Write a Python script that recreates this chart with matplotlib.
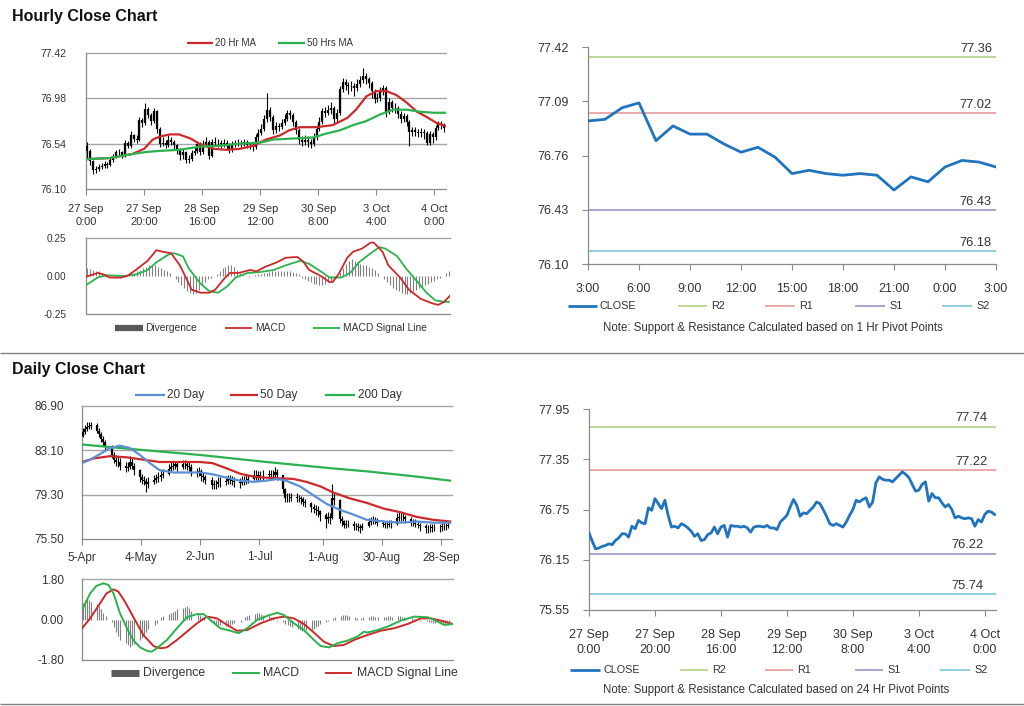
import numpy as np
import pandas as pd
import matplotlib
matplotlib.use('Agg')
import matplotlib.pyplot as plt
from matplotlib.lines import Line2D

plt.rcParams['font.family'] = ['Liberation Sans', 'DejaVu Sans']

# ---------------- DATA ----------------
# Hourly closes (27 Sep 0:00 ... 4 Oct 3:00), one per hour
hourly_close = [
    76.47, 76.37, 76.28, 76.29, 76.31, 76.32, 76.34, 76.33, 76.38, 76.41,
    76.46, 76.46, 76.42, 76.55, 76.52, 76.62, 76.59, 76.58, 76.77, 76.74,
    76.88, 76.82, 76.76, 76.86, 76.68, 76.54, 76.55, 76.53, 76.58, 76.56,
    76.53, 76.49, 76.43, 76.46, 76.38, 76.39, 76.45, 76.47, 76.54, 76.46,
    76.54, 76.56, 76.42, 76.56, 76.55, 76.55, 76.54, 76.55, 76.53, 76.48,
    76.54, 76.55, 76.55, 76.54, 76.56, 76.53, 76.53, 76.51, 76.60, 76.64,
    76.68, 76.78, 76.87, 76.80, 76.67, 76.71, 76.70, 76.74, 76.78, 76.84,
    76.82, 76.75, 76.67, 76.58, 76.56, 76.58, 76.56, 76.54, 76.60, 76.68,
    76.75, 76.86, 76.84, 76.87, 76.89, 76.78, 76.84, 77.07, 77.14, 77.11,
    77.10, 77.10, 77.08, 77.12, 77.16, 77.20, 77.17, 77.13, 77.05, 76.97,
    76.98, 77.05, 77.08, 76.85, 76.94, 76.89, 76.89, 76.83, 76.78, 76.81,
    76.75, 76.65, 76.67, 76.65, 76.64, 76.65, 76.64, 76.55, 76.63, 76.60,
    76.69, 76.73, 76.72, 76.69]
hourly_first_open = 76.52
hourly_high = [
    76.56, 76.49, 76.38, 76.32, 76.34, 76.35, 76.37, 76.36, 76.41, 76.44,
    76.48, 76.49, 76.47, 76.58, 76.57, 76.66, 76.63, 76.62, 76.80, 76.79,
    76.93, 76.90, 76.84, 76.89, 76.87, 76.70, 76.60, 76.58, 76.62, 76.60,
    76.58, 76.54, 76.50, 76.49, 76.47, 76.43, 76.48, 76.51, 76.57, 76.56,
    76.58, 76.60, 76.58, 76.59, 76.60, 76.59, 76.58, 76.59, 76.58, 76.55,
    76.57, 76.58, 76.59, 76.58, 76.59, 76.58, 76.56, 76.55, 76.63, 76.68,
    76.73, 76.82, 77.03, 76.90, 76.82, 76.75, 76.74, 76.78, 76.83, 76.87,
    76.87, 76.84, 76.77, 76.69, 76.61, 76.62, 76.61, 76.59, 76.64, 76.72,
    76.80, 76.89, 76.90, 76.92, 76.94, 76.91, 76.88, 77.10, 77.18, 77.17,
    77.14, 77.15, 77.13, 77.17, 77.20, 77.27, 77.23, 77.19, 77.15, 77.07,
    77.03, 77.09, 77.11, 77.10, 76.98, 76.96, 76.93, 76.91, 76.86, 76.84,
    76.83, 76.77, 76.70, 76.70, 76.68, 76.69, 76.68, 76.66, 76.66, 76.65,
    76.72, 76.76, 76.76, 76.74]
hourly_low = [
    76.40, 76.33, 76.25, 76.26, 76.27, 76.29, 76.30, 76.30, 76.32, 76.36,
    76.40, 76.43, 76.40, 76.41, 76.50, 76.50, 76.56, 76.55, 76.57, 76.70,
    76.72, 76.79, 76.72, 76.74, 76.64, 76.51, 76.52, 76.50, 76.51, 76.53,
    76.49, 76.44, 76.38, 76.39, 76.35, 76.35, 76.37, 76.43, 76.45, 76.43,
    76.44, 76.51, 76.39, 76.41, 76.52, 76.51, 76.50, 76.51, 76.49, 76.45,
    76.46, 76.51, 76.52, 76.51, 76.52, 76.50, 76.49, 76.47, 76.49, 76.57,
    76.62, 76.66, 76.75, 76.76, 76.63, 76.64, 76.66, 76.68, 76.72, 76.76,
    76.78, 76.71, 76.63, 76.54, 76.52, 76.53, 76.51, 76.50, 76.52, 76.58,
    76.66, 76.73, 76.80, 76.82, 76.83, 76.74, 76.75, 76.82, 77.04, 77.06,
    77.02, 77.05, 77.00, 77.05, 77.09, 77.13, 77.12, 77.08, 76.98, 76.93,
    76.94, 76.95, 77.01, 76.80, 76.83, 76.85, 76.84, 76.79, 76.74, 76.75,
    76.71, 76.52, 76.61, 76.61, 76.60, 76.60, 76.59, 76.53, 76.53, 76.55,
    76.58, 76.67, 76.68, 76.65]
hourly_ticklabels = ['27 Sep\n0:00', '27 Sep\n20:00', '28 Sep\n16:00',
                     '29 Sep\n12:00', '30 Sep\n8:00', '3 Oct\n4:00', '4 Oct\n0:00']

# Hourly moving averages (hour index, value)
ma20h_x = [0, 8, 16, 20, 23, 25.5, 29, 32, 36, 39, 44, 48.5, 53, 57.6, 62, 66.8,
           70, 73.6, 79.4, 85, 90, 93, 96.6, 100, 103.5, 107, 110.4, 114, 117.3, 120.8, 124]
ma20h_v = [76.39, 76.40, 76.44, 76.49, 76.58, 76.61, 76.63, 76.63, 76.59, 76.54,
           76.49, 76.48, 76.49, 76.52, 76.58, 76.62, 76.67, 76.70, 76.70, 76.72,
           76.79, 76.87, 77.00, 77.05, 77.05, 77.01, 76.94, 76.85, 76.80, 76.74, 76.71]
ma50h_x = [0, 8, 16, 21, 25.5, 32, 39, 46, 53, 60, 64.5, 71.4, 78.3, 83, 87.5, 92,
           96.6, 101, 105.9, 110.4, 115, 119.6, 124]
ma50h_v = [76.39, 76.40, 76.44, 76.46, 76.47, 76.48, 76.51, 76.52, 76.54, 76.55,
           76.58, 76.59, 76.60, 76.64, 76.67, 76.72, 76.76, 76.82, 76.87, 76.87,
           76.85, 76.84, 76.84]

# Hourly MACD
macd_h_x = [0, 4, 6, 8, 12, 14, 17, 21, 24, 26, 29, 32, 34, 36, 39, 42, 44, 47, 49, 52,
            56, 58, 61, 65, 68, 72, 74, 76, 80, 83, 84, 86, 89, 91, 94, 97, 98, 101, 103, 107,
            110, 114, 118, 120, 122, 124]
macd_h_v = [-0.005, 0.02, 0.01, -0.01, -0.01, 0.0, 0.04, 0.10, 0.17, 0.16,
            0.15, 0.07, -0.01, -0.09, -0.11, -0.11, -0.09, -0.02, 0.02, 0.02,
            0.04, 0.03, 0.06, 0.09, 0.12, 0.125, 0.095, 0.04, 0.0, -0.04,
            -0.04, 0.01, 0.12, 0.16, 0.18, 0.22, 0.22, 0.16, 0.07, -0.01,
            -0.09, -0.15, -0.18, -0.19, -0.17, -0.13]
sig_h_x = [0, 4, 7, 13, 17, 21, 24, 28, 30, 33, 35, 39, 42, 45, 48, 51, 55, 59, 64, 68,
           73, 76, 80, 83, 87, 90, 93, 97, 100, 102, 106, 109, 113, 116, 119, 122, 124]
sig_h_v = [-0.06, -0.01, 0.005, 0.0, 0.01, 0.04, 0.09, 0.14, 0.15, 0.13,
           0.05, -0.05, -0.10, -0.11, -0.07, -0.01, 0.02, 0.025, 0.04, 0.07,
           0.10, 0.08, 0.03, -0.01, -0.01, 0.02, 0.09, 0.15, 0.19, 0.18,
           0.13, 0.05, -0.04, -0.11, -0.16, -0.17, -0.17]
div_h = [0.05, 0.045, 0.04, 0.035, 0.03, 0.02,
         0.01, 0.005, -0.005, -0.01, -0.01, -0.01, -0.005, 0.0,
         0.005, 0.01, 0.02, 0.03, 0.04, 0.05, 0.06, 0.07,
         0.07, 0.07, 0.06, 0.05, 0.04, 0.03, 0.02,
         0.0, -0.02, -0.04, -0.06, -0.08, -0.10, -0.11, -0.12, -0.11,
         -0.09, -0.06, -0.04, -0.02, -0.01, 0.0, 0.01,
         0.03, 0.05, 0.06, 0.07, 0.07, 0.06, 0.04, 0.02,
         0.01, 0.0, -0.005, 0.0, 0.005, 0.01,
         0.015, 0.02, 0.02, 0.025, 0.03, 0.03, 0.03, 0.035, 0.035, 0.03, 0.03, 0.025, 0.02, 0.01,
         -0.01, -0.02, -0.03, -0.04, -0.05, -0.05, -0.06, -0.06, -0.05, -0.04, -0.03, -0.02,
         0.0, 0.02, 0.05, 0.08, 0.10, 0.11, 0.10, 0.09, 0.08, 0.07, 0.07, 0.06, 0.05, 0.04, 0.02, 0.0,
         -0.02, -0.04, -0.06, -0.08, -0.09, -0.10, -0.11, -0.12, -0.12, -0.11, -0.10, -0.09,
         -0.08, -0.07, -0.06, -0.05, -0.04, -0.03, -0.02, -0.01, 0.0, 0.02, 0.03]

# Hourly pivot levels (1 Hr)
piv_h_levels = {'R2': 77.36, 'R1': 77.02, 'S1': 76.43, 'S2': 76.18}
piv_h_ticklabels = ['3:00', '6:00', '9:00', '12:00', '15:00', '18:00', '21:00', '0:00', '3:00']
# Daily pivot levels (24 Hr)
piv_d_levels = {'R2': 77.74, 'R1': 77.22, 'S1': 76.22, 'S2': 75.74}

# Daily closes (business days from 5-Apr)
daily_start = '2021-04-05'
daily_close = [
    84.7, 84.9, 85.1, 85.2, 85.25, 84.8, 84.5, 84.1, 83.8, 83.5,
    82.7, 82.3, 82.1, 82.1, 81.8, 81.6, 81.7, 82.1, 81.8, 81.4,
    80.8, 80.6, 80.5, 80.2, 80.4, 80.6, 80.7, 80.8, 81.0, 81.1,
    81.5, 81.7, 81.8, 81.9, 81.7, 81.9, 81.9, 81.8, 81.7, 81.2,
    81.2, 81.3, 80.9, 80.8, 80.6, 80.1, 80.2, 80.2, 80.4, 80.4,
    80.5, 80.65, 80.6, 80.5, 80.4, 80.3, 80.5, 80.5, 80.6, 80.65,
    81.0, 81.0, 80.9, 80.95, 81.0, 81.05, 81.0, 81.0, 81.2, 81.0,
    79.8, 79.0, 79.0, 79.05, 79.1, 79.0, 79.0, 78.9, 78.7, 78.6,
    78.2, 78.1, 78.0, 77.9, 77.6, 77.2, 77.4, 77.3, 79.0, 78.85,
    77.2, 77.0, 76.7, 76.8, 76.8, 76.6, 76.6, 76.5, 76.45, 76.6,
    76.95, 77.0, 77.1, 77.1, 76.9, 76.8, 76.7, 76.7, 76.8, 76.75,
    77.3, 77.4, 77.4, 77.35, 77.2, 76.9, 76.9, 76.8, 76.7, 76.6,
    76.4, 76.4, 76.45, 76.5, 76.5, 76.5, 76.6, 76.6, 76.65, 76.7]
daily_first_open = 84.3
daily_high = [
    85.0, 85.3, 85.5, 85.5, 85.5, 85.4, 85.0, 84.7, 84.3, 84.0,
    83.6, 83.0, 82.7, 82.6, 82.4, 82.1, 82.1, 82.6, 82.4, 82.0,
    81.5, 81.1, 80.9, 80.7, 80.8, 81.0, 81.1, 81.2, 81.4, 81.5,
    81.9, 82.1, 82.2, 82.2, 82.2, 82.3, 82.3, 82.2, 82.1, 81.9,
    81.6, 81.7, 81.5, 81.2, 81.0, 80.8, 80.6, 80.6, 80.8, 80.8,
    80.9, 81.0, 81.0, 80.9, 80.8, 80.7, 80.9, 80.9, 81.0, 81.0,
    81.4, 81.4, 81.3, 81.3, 81.4, 81.4, 81.4, 81.4, 81.7, 81.5,
    81.0, 79.9, 79.4, 79.4, 79.4, 79.4, 79.3, 79.2, 79.1, 78.9,
    78.7, 78.5, 78.4, 78.3, 78.0, 77.7, 77.8, 77.7, 80.2, 79.4,
    78.9, 77.5, 77.1, 77.1, 77.1, 77.0, 76.9, 76.9, 76.8, 76.9,
    77.3, 77.4, 77.5, 77.4, 77.3, 77.1, 77.0, 77.0, 77.1, 77.1,
    77.7, 77.8, 77.7, 77.7, 77.6, 77.4, 77.2, 77.2, 77.0, 76.9,
    76.8, 76.7, 76.8, 76.8, 76.8, 76.8, 76.9, 76.9, 76.9, 77.0]
daily_low = [
    84.2, 84.5, 84.8, 84.9, 84.9, 84.6, 84.2, 83.8, 83.5, 83.1,
    82.4, 82.0, 81.8, 81.7, 81.4, 81.2, 81.3, 81.5, 81.5, 81.0,
    80.4, 80.2, 80.1, 79.5, 79.9, 80.2, 80.3, 80.4, 80.5, 80.7,
    81.0, 81.3, 81.4, 81.5, 81.3, 81.5, 81.5, 81.4, 81.3, 80.9,
    80.8, 80.9, 80.5, 80.4, 80.2, 79.8, 79.8, 79.8, 80.0, 80.0,
    80.1, 80.2, 80.2, 80.1, 80.0, 79.9, 80.1, 80.1, 80.2, 80.3,
    80.6, 80.6, 80.5, 80.6, 80.6, 80.7, 80.6, 80.6, 80.8, 80.6,
    79.4, 78.7, 78.7, 78.7, 78.8, 78.7, 78.7, 78.5, 78.3, 78.2,
    77.8, 77.7, 77.6, 77.4, 77.0, 76.4, 76.9, 76.8, 77.2, 78.4,
    76.9, 76.6, 76.4, 76.4, 76.5, 76.3, 76.3, 76.2, 76.0, 76.3,
    76.5, 76.7, 76.8, 76.8, 76.6, 76.5, 76.4, 76.4, 76.5, 76.4,
    76.7, 77.0, 77.0, 77.0, 76.9, 76.6, 76.6, 76.5, 76.4, 76.2,
    76.0, 76.0, 76.1, 76.1, 76.2, 76.1, 76.2, 76.3, 76.3, 76.4]
daily_tick_dates = ['2021-04-05', '2021-05-04', '2021-06-02', '2021-07-01',
                    '2021-08-01', '2021-08-30', '2021-09-28']

# Daily moving averages (calendar-day offset from 5-Apr, value)
ma20d_x = [0, 4, 9, 13.7, 18.6, 23.5, 28.4, 33.3, 38, 44.8, 51, 58, 64, 71, 77.5, 84,
           90.5, 95.4, 100, 107, 113, 120, 126.5, 133, 139.5, 148, 156, 164, 172, 180.5]
ma20d_v = [82.0, 82.3, 82.8, 83.3, 83.5, 83.3, 82.7, 82.0, 81.4, 81.2,
           81.2, 81.2, 81.05, 80.75, 80.5, 80.4, 80.5, 80.65, 80.5, 80.0,
           79.3, 78.5, 78.0, 77.6, 77.15, 77.0, 76.9, 77.0, 76.9, 76.9]
ma50d_x = [0, 5.6, 13.7, 22, 30, 38, 46, 58, 64, 71, 77.5, 84, 90.5, 97, 103.6, 110,
           117, 123, 131, 139.5, 148, 156, 164, 172, 180.5]
ma50d_v = [82.1, 82.4, 82.6, 82.5, 82.3, 82.1, 82.1, 82.1, 82.0, 81.55,
           81.1, 80.85, 80.75, 80.7, 80.65, 80.4, 80.0, 79.5, 79.0, 78.6,
           78.1, 77.8, 77.4, 77.15, 77.0]
ma200d_x = [0, 25, 58, 90.5, 123, 139.5, 156, 164, 180.5]
ma200d_v = [83.6, 83.2, 82.7, 82.1, 81.55, 81.3, 81.0, 80.85, 80.5]

# Daily MACD
macd_d_x = [0, 4, 7, 10.5, 13, 15.4, 18.6, 22, 25, 28.4, 31.7, 34, 36.6, 41.5, 46.4,
            51.3, 56.2, 59.5, 62.7, 67.6, 72.5, 76.6, 80.7, 85.6, 90.5, 95.4, 98.7, 103.6,
            108.5, 113.4, 116.7, 120.8, 124.8, 129.7, 134.6, 137.9, 139.5, 144.4, 149.3,
            155.9, 162.4, 169, 172.2, 177.1, 181.4]
macd_d_v = [0.42, 1.16, 1.49, 1.61, 1.53, 1.16, 0.27, -0.39, -0.91, -1.24,
            -1.39, -1.43, -1.28, -0.91, -0.39, 0.10, 0.24, 0.24, -0.02, -0.39,
            -0.50, -0.61, -0.39, -0.02, 0.16, 0.30, 0.20, -0.17, -0.47, -0.91,
            -1.18, -1.24, -1.06, -0.94, -0.76, -0.54, -0.58, -0.47, -0.32, -0.05,
            0.13, 0.10, -0.02, -0.24, -0.20]
sig_d_x = [0, 4, 8.8, 12, 15.4, 17.8, 21, 25, 30, 35, 38.2, 41.5, 46.4, 51.3, 56.2,
           61.1, 66, 70.9, 75.8, 80.7, 87.3, 93.8, 98.7, 103.6, 108.5, 113.4, 118.3,
           123.2, 128.1, 133, 139.5, 146, 152.6, 159.2, 165.7, 170.6, 175.5, 181.4]
sig_d_v = [-0.39, 0.05, 0.72, 1.16, 1.34, 1.24, 0.79, 0.13, -0.69, -1.18,
           -1.28, -1.24, -0.91, -0.54, -0.17, 0.13, 0.05, -0.24, -0.50, -0.47,
           -0.17, 0.05, 0.13, 0.05, -0.20, -0.58, -0.99, -1.18, -1.13, -0.91,
           -0.69, -0.50, -0.39, -0.20, 0.05, 0.05, -0.05, -0.20]
div_d = [0.75, 0.85, 0.9, 0.85, 0.8, 0.7, 0.6, 0.45, 0.3, 0.15,
         -0.1, -0.35, -0.55, -0.75, -0.9, -1.05, -1.15, -1.2, -1.15, -1.1,
         -0.9, -0.8, -0.7, -0.55, -0.4, -0.25, -0.15, 0.0, 0.1, 0.15,
         0.25, 0.3, 0.35, 0.4, 0.45, 0.5, 0.55, 0.6, 0.5, 0.4,
         0.3, 0.2, 0.1, 0.05, 0.0, -0.1, -0.15, -0.2, -0.25, -0.25,
         -0.3, -0.3, -0.25, -0.2, -0.15, -0.1, 0.0, 0.1, 0.15, 0.2,
         0.25, 0.3, 0.3, 0.25, 0.2, 0.15, 0.1, 0.05, 0.0, -0.05,
         -0.1, -0.2, -0.25, -0.3, -0.35, -0.4, -0.45, -0.5, -0.5, -0.45,
         -0.45, -0.4, -0.35, -0.3, -0.2, -0.1, -0.05, 0.0, 0.05, 0.1,
         0.15, 0.2, 0.2, 0.2, 0.15, 0.1, 0.05, 0.0, 0.05, 0.1,
         0.12, 0.15, 0.15, 0.12, 0.1, 0.1, 0.12, 0.15, 0.15, 0.12,
         0.15, 0.15, 0.12, 0.1, 0.08, 0.05, 0.03, 0.0, -0.03, -0.05,
         -0.08, -0.1, -0.12, -0.15, -0.15, -0.18, -0.2, -0.2, -0.15, -0.1]

# ---------------- STYLE ----------------
RED = '#cc2a2a'
GREEN = '#2bb24f'
BLUE20 = '#5b8fd4'
CLOSE_BLUE = '#1f74bd'
LVL_COL = {'R2': '#b6d38c', 'R1': '#eaa3a3', 'S1': '#a897c9', 'S2': '#86c9dc'}
GRID = '#a6a6a6'
SPINE = '#8a8a8a'
TXT = '#333333'
BARCOL = '#808080'

W, H = 1024, 706
fig = plt.figure(figsize=(W / 100, H / 100), dpi=100)


def ax_px(l, t, r, b):
    return fig.add_axes([l / W, 1 - b / H, (r - l) / W, (b - t) / H])


def fline(x0, x1, y, color, lw):
    fig.add_artist(Line2D([x0 / W, x1 / W], [1 - y / H, 1 - y / H], color=color,
                          lw=lw, transform=fig.transFigure, solid_capstyle='butt'))


def ftext(x, y, s, size, **kw):
    fig.text(x / W, 1 - y / H, s, fontsize=size, color=TXT, va='center', **kw)


def base_style(ax, ylab=8, xlab=8):
    for s in ['top', 'right']:
        ax.spines[s].set_visible(False)
    for s in ['left', 'bottom']:
        ax.spines[s].set_color(SPINE)
        ax.spines[s].set_linewidth(0.9)
    ax.tick_params(axis='y', colors=SPINE, labelcolor=TXT, direction='out',
                   length=4, width=0.8, pad=8, labelsize=ylab)
    ax.tick_params(axis='x', colors=SPINE, labelcolor=TXT, direction='out',
                   length=4, width=0.8, pad=7, labelsize=xlab)
    ax.set_facecolor('none')


def hgrid(ax, vals):
    for v in vals:
        ax.axhline(v, color=GRID, lw=1.0, zorder=0, clip_on=False)


# ---------------- Titles & separators ----------------
fig.text(12 / W, 1 - 21 / H, 'Hourly Close Chart', fontsize=11.5, fontweight='bold',
         color='#111111', va='baseline')
fig.text(12 / W, 1 - 374 / H, 'Daily Close Chart', fontsize=11.5, fontweight='bold',
         color='#111111', va='baseline')
fline(0, 1024, 352.5, '#808080', 1.0)
fline(0, 1024, 703.5, '#808080', 1.0)

# ---------------- Hourly candle chart ----------------
n_h = len(hourly_close)
xh = np.arange(n_h) + 0.4
h_open = [hourly_first_open] + hourly_close[:-1]
ax1 = ax_px(86, 53, 446, 189)
base_style(ax1, ylab=7.5, xlab=8)
yt1 = [77.42, 76.98, 76.54, 76.10]
hgrid(ax1, yt1[:-1])
ax1.vlines(xh, hourly_low, hourly_high, color='black', lw=0.8, zorder=3)
ax1.vlines(xh, np.minimum(h_open, hourly_close), np.maximum(h_open, hourly_close),
           color='black', lw=1.6, zorder=3)
ax1.plot(ma20h_x, ma20h_v, color=RED, lw=1.6, zorder=4)
ax1.plot(ma50h_x, ma50h_v, color=GREEN, lw=1.6, zorder=4)
ax1.set_xlim(0, 124)
ax1.set_ylim(76.10, 77.42)
ax1.set_yticks(yt1)
ax1.set_yticklabels([f'{v:.2f}' for v in yt1])
ax1.set_xticks(np.arange(0, 121, 20))
ax1.set_xticklabels(hourly_ticklabels, linespacing=1.35)
ax1.tick_params(axis='y', length=0, pad=14)

fline(187, 213, 43, RED, 1.6)
ftext(215, 43, '20 Hr MA', 7)
fline(278, 305, 43, GREEN, 1.6)
ftext(307, 43, '50 Hrs MA', 7)

# ---------------- Hourly MACD ----------------
ax2 = ax_px(86, 238, 450, 314)
base_style(ax2, ylab=7.2)
yt2 = [0.25, 0.0, -0.25]
hgrid(ax2, [0.25])
ax2.vlines(np.arange(len(div_h)) + 0.5, 0, div_h, color=BARCOL, lw=0.8, zorder=2)
ax2.plot(sig_h_x, sig_h_v, color=GREEN, lw=1.3, zorder=3)
ax2.plot(macd_h_x, macd_h_v, color=RED, lw=1.3, zorder=4)
ax2.set_xlim(0, 124)
ax2.set_ylim(-0.25, 0.25)
ax2.set_yticks(yt2)
ax2.set_yticklabels([f'{v:.2f}' for v in yt2])
ax2.set_xticks([])
ax2.tick_params(axis='y', length=0, pad=14)

fline(115, 143, 328, '#595959', 4.5)
ftext(145, 328, 'Divergence', 7.4)
fline(225, 252, 328, RED, 1.3)
ftext(255, 328, 'MACD', 7.4)
fline(313, 340, 328, GREEN, 1.3)
ftext(343, 328, 'MACD Signal Line', 7.4)

# ---------------- Hourly pivot chart ----------------
last25 = hourly_close[-25:]
ax3 = ax_px(588, 47, 996, 264)
base_style(ax3, ylab=9, xlab=9)
ax3.tick_params(axis='x', pad=10)
ax3.tick_params(axis='y', pad=10)
for k, v in piv_h_levels.items():
    ax3.axhline(v, color=LVL_COL[k], lw=1.3, zorder=2)
    ax3.text(23.76, v + 0.012, f'{v:.2f}', ha='right', va='bottom', fontsize=9.3, color=TXT)
ax3.plot(np.arange(len(last25)), last25, color=CLOSE_BLUE, lw=2.0, zorder=3)
yt3 = [77.42, 77.09, 76.76, 76.43, 76.10]
ax3.set_xlim(0, 24)
ax3.set_ylim(76.10, 77.42)
ax3.set_yticks(yt3)
ax3.set_yticklabels([f'{v:.2f}' for v in yt3])
ax3.set_xticks(np.arange(0, 25, 3))
ax3.set_xticklabels(piv_h_ticklabels)

ly = 306
fline(568, 597, ly, CLOSE_BLUE, 2.0); ftext(600, ly, 'CLOSE', 7.8)
fline(678, 707, ly, LVL_COL['R2'], 1.3); ftext(711, ly, 'R2', 7.8)
fline(765, 795, ly, LVL_COL['R1'], 1.3); ftext(799, ly, 'R1', 7.8)
fline(855, 885, ly, LVL_COL['S1'], 1.3); ftext(889, ly, 'S1', 7.8)
fline(942, 972, ly, LVL_COL['S2'], 1.3); ftext(976, ly, 'S2', 7.8)
ftext(773, 328, 'Note: Support & Resistance Calculated based on 1 Hr Pivot Points', 8.3,
      ha='center')

# ---------------- Daily candle chart ----------------
d_dates = pd.bdate_range(daily_start, periods=len(daily_close))
dx = (d_dates - d_dates[0]).days.values.astype(float) + 0.5
d_open = [daily_first_open] + daily_close[:-1]
t_dates = pd.to_datetime(daily_tick_dates)
t_pos = (t_dates - pd.Timestamp(daily_start)).days.values
t_lab = [f'{d.day}-{d.strftime("%b")}' for d in t_dates]

ax4 = ax_px(82, 406, 452, 539)
base_style(ax4, ylab=8.5, xlab=8.5)
yt4 = [86.90, 83.10, 79.30, 75.50]
hgrid(ax4, yt4[:-1])
ax4.vlines(dx, daily_low, daily_high, color='black', lw=0.8, zorder=3)
ax4.vlines(dx, np.minimum(d_open, daily_close), np.maximum(d_open, daily_close),
           color='black', lw=1.6, zorder=3)
ax4.plot(ma200d_x, ma200d_v, color=GREEN, lw=1.6, zorder=4)
ax4.plot(ma50d_x, ma50d_v, color=RED, lw=1.6, zorder=4)
ax4.plot(ma20d_x, ma20d_v, color=BLUE20, lw=1.6, zorder=5)
ax4.set_xlim(0, 181.4)
ax4.set_ylim(75.50, 86.90)
ax4.set_yticks(yt4)
ax4.set_yticklabels([f'{v:.2f}' for v in yt4])
ax4.set_xticks(t_pos)
ax4.set_xticklabels(t_lab)
ax4.tick_params(axis='y', length=0, pad=13)
ax4.tick_params(axis='x', pad=5)

fline(135, 165, 395, BLUE20, 1.6); ftext(167, 395, '20 Day', 8.5)
fline(230, 258, 395, RED, 1.6); ftext(260, 395, '50 Day', 8.5)
fline(325, 355, 395, GREEN, 1.6); ftext(358, 395, '200 Day', 8.5)

# ---------------- Daily MACD ----------------
ax5 = ax_px(82, 579, 453, 660)
base_style(ax5, ylab=8.5)
yt5 = [1.80, 0.0, -1.80]
hgrid(ax5, [1.80])
ax5.vlines(dx, 0, div_d, color=BARCOL, lw=0.8, zorder=2)
ax5.plot(sig_d_x, sig_d_v, color=RED, lw=1.4, zorder=3)
ax5.plot(macd_d_x, macd_d_v, color=GREEN, lw=1.4, zorder=4)
ax5.set_xlim(0, 181.4)
ax5.set_ylim(-1.80, 1.80)
ax5.set_yticks(yt5)
ax5.set_yticklabels([f'{v:.2f}' for v in yt5])
ax5.set_xticks([])
ax5.tick_params(axis='y', length=0, pad=13)

fline(111, 139, 673, '#595959', 5)
ftext(143, 673, 'Divergence', 8.8)
fline(232, 260, 673, GREEN, 1.4)
ftext(263, 673, 'MACD', 8.8)
fline(325, 352, 673, RED, 1.4)
ftext(357, 673, 'MACD Signal Line', 8.8)

# ---------------- Daily pivot chart ----------------
ax6 = ax_px(589, 409, 996, 610)
base_style(ax6, ylab=9, xlab=9)
ax6.tick_params(axis='x', pad=10)
ax6.tick_params(axis='y', pad=10)
for k, v in piv_d_levels.items():
    xr = 120.8 if k in ('R2', 'R1') else 119.6
    ax6.axhline(v, color=LVL_COL[k], lw=1.3, zorder=2)
    ax6.text(xr, v + 0.03, f'{v:.2f}', ha='right', va='bottom', fontsize=9.3, color=TXT)
ax6.plot(np.arange(n_h), hourly_close, color=CLOSE_BLUE, lw=2.0, zorder=3)
yt6 = [77.95, 77.35, 76.75, 76.15, 75.55]
ax6.set_xlim(0, 123.4)
ax6.set_ylim(75.55, 77.95)
ax6.set_yticks(yt6)
ax6.set_yticklabels([f'{v:.2f}' for v in yt6])
ax6.set_xticks(np.arange(0, 121, 20))
ax6.set_xticklabels(hourly_ticklabels, linespacing=1.3)

ly = 670
fline(570, 600, ly, CLOSE_BLUE, 2.0); ftext(603, ly, 'CLOSE', 7.8)
fline(680, 708, ly, LVL_COL['R2'], 1.3); ftext(712, ly, 'R2', 7.8)
fline(765, 793, ly, LVL_COL['R1'], 1.3); ftext(797, ly, 'R1', 7.8)
fline(855, 883, ly, LVL_COL['S1'], 1.3); ftext(887, ly, 'S1', 7.8)
fline(940, 970, ly, LVL_COL['S2'], 1.3); ftext(974, ly, 'S2', 7.8)
ftext(776, 690, 'Note: Support & Resistance Calculated based on 24 Hr Pivot Points', 8.3,
      ha='center')

fig.savefig('out.png', dpi=100, facecolor='white')
